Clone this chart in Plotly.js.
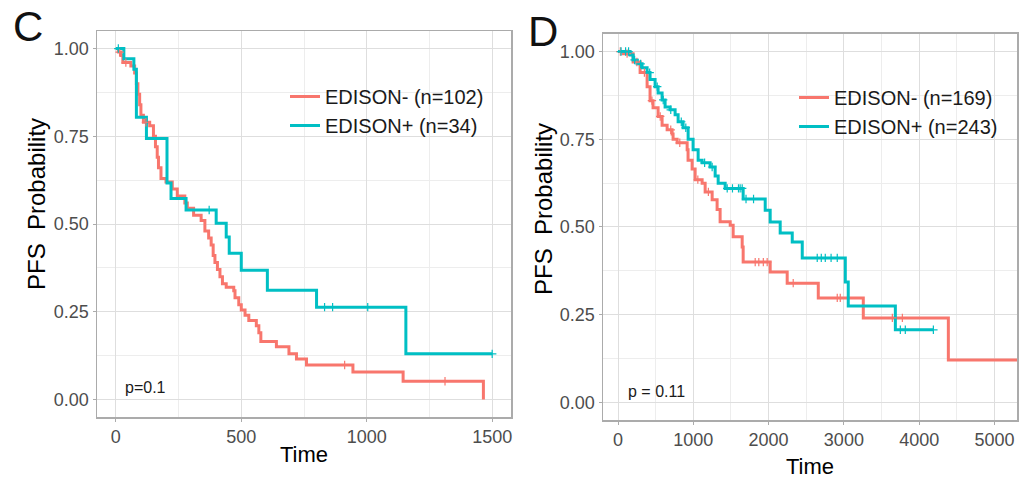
<!DOCTYPE html>
<html>
<head>
<meta charset="utf-8">
<script src="https://cdn.plot.ly/plotly-3.0.1.min.js"></script>
<style>html,body{margin:0;padding:0;background:#fff;}#chart{width:1032px;height:479px;}</style>
</head>
<body>
<div id="chart"></div>
<script>
// ---------- Panel C data ----------
const C_neg_name = "EDISON- (n=102)";
const C_neg_time = [0,10,20,28,60,75,82,88,95,100,110,135,150,158,165,170,180,200,225,245,275,285,310,340,355,370,380,388,395,405,415,425,440,470,475,490,500,515,530,560,570,578,640,690,720,760,945,1145,1465];
const C_neg_surv = [1.0,0.99,0.98,0.96,0.95,0.93,0.90,0.87,0.84,0.81,0.79,0.78,0.75,0.72,0.69,0.66,0.63,0.62,0.60,0.58,0.56,0.545,0.525,0.51,0.48,0.46,0.44,0.41,0.39,0.37,0.35,0.33,0.32,0.31,0.29,0.27,0.255,0.24,0.225,0.21,0.19,0.165,0.15,0.13,0.115,0.098,0.078,0.052,0.0];
const C_neg_cens = [15, 40, 120, 912, 1312];

const C_pos_name = "EDISON+ (n=34)";
const C_pos_time = [0,32,72,82,122,204,220,280,400,440,452,500,604,800,1156,1500];
const C_pos_surv = [1.0,0.971,0.941,0.804,0.744,0.617,0.573,0.54,0.502,0.463,0.417,0.368,0.311,0.263,0.13,0.13];
const C_pos_cens = [10, 372, 832, 864, 1004, 1500];

// ---------- Panel D data ----------
const D_neg_name = "EDISON- (n=169)";
const D_neg_time = [0,66,200,293,386,425,465,532,585,652,718,731,785,918,930,984,1024,1117,1157,1250,1316,1356,1490,1529,1649,1662,2021,2247,2660,3258,4388,5300];
const D_neg_surv = [1.0,0.994,0.97,0.94,0.90,0.86,0.84,0.815,0.79,0.777,0.765,0.75,0.74,0.72,0.69,0.665,0.635,0.625,0.60,0.578,0.55,0.515,0.505,0.472,0.443,0.40,0.372,0.34,0.298,0.241,0.121,0.121];
const D_neg_cens = [30,120,250,350,450,560,700,820,1060,1200,1822,1870,1930,1981,2327,2912,2952,3644,3777];

const D_pos_name = "EDISON+ (n=243)";
const D_pos_time = [0,160,200,253,319,386,425,492,532,585,625,691,758,798,864,931,997,1064,1117,1223,1290,1330,1423,1662,1955,2021,2154,2314,2447,3019,3058,3684,4189];
const D_pos_surv = [1.0,0.99,0.976,0.965,0.954,0.94,0.92,0.90,0.882,0.862,0.842,0.834,0.82,0.80,0.783,0.75,0.72,0.69,0.683,0.671,0.645,0.625,0.61,0.58,0.548,0.514,0.483,0.457,0.412,0.343,0.275,0.207,0.207];
const D_pos_cens = [40,100,140,220,300,420,520,600,700,840,900,1150,1250,1450,1520,1600,1622,1649,1700,1800,2646,2700,2753,2830,2912,3750,3816,4189];

const X_TITLE = "Time";
const Y_TITLE = "PFS\u00a0 Probability";

const RED = "#F8766D", TEAL = "#00BFC4";

function stepAt(times, surv, t) {
  let s = surv[0];
  for (let i = 0; i < times.length; i++) { if (times[i] <= t) s = surv[i]; }
  return s;
}

function curve(times, surv, name, color, xa, ya, leg, grp) {
  return {x: times, y: surv, type: "scatter", mode: "lines", name: name,
    line: {shape: "hv", color: color, width: 3}, xaxis: xa, yaxis: ya,
    legend: leg, legendgroup: grp, hoverinfo: "skip"};
}
function cens(times, surv, ct, color, xa, ya) {
  return {x: ct, y: ct.map(t => stepAt(times, surv, t)), type: "scatter", mode: "markers",
    marker: {symbol: "cross-thin-open", size: 6, color: color, line: {color: color, width: 1.2}},
    xaxis: xa, yaxis: ya, showlegend: false, hoverinfo: "skip"};
}

const traces = [
  curve(C_neg_time, C_neg_surv, C_neg_name, RED, "x", "y", "legend", "a"),
  curve(C_pos_time, C_pos_surv, C_pos_name, TEAL, "x", "y", "legend", "b"),
  cens(C_neg_time, C_neg_surv, C_neg_cens, RED, "x", "y"),
  cens(C_pos_time, C_pos_surv, C_pos_cens, TEAL, "x", "y"),
  curve(D_neg_time, D_neg_surv, D_neg_name, RED, "x2", "y2", "legend2", "c"),
  curve(D_pos_time, D_pos_surv, D_pos_name, TEAL, "x2", "y2", "legend2", "d"),
  cens(D_neg_time, D_neg_surv, D_neg_cens, RED, "x2", "y2"),
  cens(D_pos_time, D_pos_surv, D_pos_cens, TEAL, "x2", "y2")
];

const FONT = "Liberation Sans, Arial, Helvetica, sans-serif";
const tickFont = {family: FONT, size: 18, color: "#4D4D4D"};
const titleFont = {family: FONT, size: 22, color: "#000000"};
const yTitleFont = {family: FONT, size: 24, color: "#000000"};

function xAxis(domain, range, dtick, minor, anchor, standoff) {
  return {domain: domain, range: range, anchor: anchor, dtick: dtick, tick0: 0,
    showline: true, mirror: true, linecolor: "#ABABAB", linewidth: 1.5,
    showgrid: true, gridcolor: "#DEDEDE", gridwidth: 1, zeroline: false,
    minor: {dtick: minor, tick0: 0, showgrid: true, gridcolor: "#EDEDED", gridwidth: 1, ticks: ""},
    ticks: "outside", ticklen: 3, tickwidth: 1, tickcolor: "#ABABAB", tickfont: tickFont,
    title: {text: X_TITLE, font: titleFont, standoff: standoff}};
}
function yAxis(domain, anchor) {
  return {domain: domain, range: [-0.05, 1.05], anchor: anchor, tickvals: [0, 0.25, 0.5, 0.75, 1],
    tickformat: ".2f", showline: true, mirror: true, linecolor: "#ABABAB", linewidth: 1.5,
    showgrid: true, gridcolor: "#DEDEDE", gridwidth: 1, zeroline: false,
    minor: {tickvals: [0.125, 0.375, 0.625, 0.875], showgrid: true, gridcolor: "#EDEDED", gridwidth: 1, ticks: ""},
    ticks: "outside", ticklen: 3, tickwidth: 1, tickcolor: "#ABABAB", tickfont: tickFont};
}

const legendBase = {orientation: "v", xanchor: "left", yanchor: "top", bgcolor: "rgba(0,0,0,0)",
  font: {family: FONT, size: 20, color: "#1A1A1A"}, traceorder: "grouped", tracegroupgap: 0, itemwidth: 30};

const layout = {
  width: 1032, height: 479,
  margin: {l: 97, r: 15, t: 31, b: 59},
  paper_bgcolor: "#FFFFFF", plot_bgcolor: "#FFFFFF",
  showlegend: true,
  xaxis: xAxis([0, 0.45], [-75, 1575], 500, 250, "y", 0),
  yaxis: yAxis([0.0077, 1.0], "x"),
  xaxis2: xAxis([0.55, 1.0], [-200, 5300], 1000, 500, "y2", 14),
  yaxis2: yAxis([0.0, 0.9923], "x2"),
  legend: Object.assign({}, legendBase, {x: (285 - 97) / 920, y: (420 - 77) / 389}),
  legend2: Object.assign({}, legendBase, {x: (794 - 97) / 920, y: (420 - 78) / 389}),
  annotations: [
    {text: "C", xref: "paper", yref: "paper", x: (28 - 97) / 920, y: (420 - 27) / 389,
     xanchor: "center", yanchor: "middle", showarrow: false, font: {family: FONT, size: 42, color: "#111"}},
    {text: "D", xref: "paper", yref: "paper", x: (543 - 97) / 920, y: (420 - 31) / 389,
     xanchor: "center", yanchor: "middle", showarrow: false, font: {family: FONT, size: 42, color: "#111"}},
    {text: Y_TITLE, xref: "paper", yref: "paper", x: (37 - 97) / 920, y: (420 - 204) / 389,
     xanchor: "center", yanchor: "middle", textangle: -90, showarrow: false, font: yTitleFont},
    {text: Y_TITLE, xref: "paper", yref: "paper", x: (543 - 97) / 920, y: (420 - 209) / 389,
     xanchor: "center", yanchor: "middle", textangle: -90, showarrow: false, font: yTitleFont},
    {text: "p=0.1", xref: "x domain", yref: "y domain", x: (123 - 97) / 414, y: (417 - 387) / 386,
     xanchor: "left", yanchor: "middle", showarrow: false, font: {family: FONT, size: 16, color: "#1A1A1A"}},
    {text: "p = 0.11", xref: "x2 domain", yref: "y2 domain", x: (626 - 603) / 414, y: (420 - 392) / 386,
     xanchor: "left", yanchor: "middle", showarrow: false, font: {family: FONT, size: 16, color: "#1A1A1A"}}
  ]
};

Plotly.newPlot("chart", traces, layout, {displayModeBar: false, staticPlot: true});
</script>
</body>
</html>
